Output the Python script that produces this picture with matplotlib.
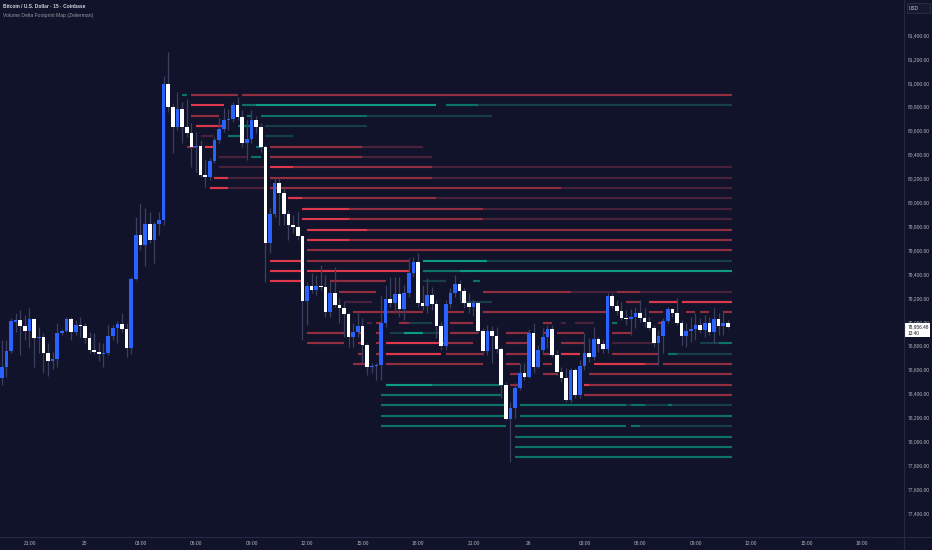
import matplotlib
matplotlib.use("Agg")
import matplotlib.pyplot as plt
from matplotlib.patches import Rectangle
from matplotlib.lines import Line2D
import numpy as np
import pandas as pd

plt.rcParams['font.family'] = ['Liberation Sans', 'DejaVu Sans']

# ---------------- data ----------------
first_bar = "2025-01-24 19:30"
bar_minutes = 15

opens = [78532, 78625, 78756, 79000, 79015, 78968, 78926, 79024, 78867, 78872,
         78742, 78670, 78689, 78909, 78926, 79024, 78912, 78973, 78965, 78862,
         78764, 78747, 78731, 78740, 78881, 78951, 78982, 78943, 78783, 79361,
         79727, 79640, 79818, 79687, 79818, 79850, 80988, 80795, 80628, 80778,
         80628, 80578, 80466, 80475, 80226, 80209, 80346, 80521, 80611, 80686,
         80697, 80812, 80717, 80494, 80530, 80686, 80633, 80466, 79657, 79900,
         80159, 80081, 79902, 79810, 79796, 79718, 79174, 79300, 79266, 79300,
         79290, 79080, 79239, 79141, 79113, 79066, 78871, 78912, 78968, 78806,
         78625, 78630, 78639, 78988, 79191, 79160, 79233, 79105, 79239, 79411,
         79503, 79160, 79135, 79225, 79149, 78965, 78800, 79147, 79239, 79317,
         79261, 79160, 79122, 79155, 78923, 78756, 78923, 78884, 78773, 78471,
         78184, 78276, 78449, 78574, 78536, 78909, 78625, 78764, 78871, 78937,
         78722, 78583, 78528, 78346, 78597, 78388, 78630, 78737, 78703, 78856,
         78812, 78773, 79219, 79133, 79091, 79030, 79020, 79040, 79074, 79035,
         78996, 78951, 78820, 78884, 79007, 79105, 79076, 78993, 78884, 78926,
         78937, 78973, 78931, 78988, 78912, 79024, 78968, 78993]
highs = [78848, 78848, 79032, 79076, 79099, 79057, 79116, 79032, 78959, 78907,
         78823, 78750, 78990, 78938, 79043, 79043, 79015, 79040, 78988, 78917,
         78909, 78834, 78823, 78973, 78973, 79010, 79074, 78990, 79378, 79880,
         79994, 79953, 79922, 79838, 79922, 81057, 81260, 80829, 80926, 80842,
         80865, 80664, 80591, 80521, 80354, 80368, 80549, 80703, 80787, 80778,
         80837, 80884, 80772, 80689, 80772, 80722, 80661, 80480, 79953, 80201,
         80215, 80120, 79936, 79894, 79922, 79727, 79336, 79406, 79392, 79476,
         79392, 79336, 79462, 79197, 79169, 79085, 78988, 79071, 79030, 78820,
         78658, 78653, 79219, 79308, 79378, 79378, 79378, 79308, 79531, 79545,
         79573, 79308, 79364, 79294, 79183, 79001, 79183, 79280, 79392, 79350,
         79280, 79239, 79188, 79169, 78946, 78973, 78965, 78959, 78792, 78499,
         78332, 78486, 78653, 78653, 78938, 78988, 78806, 78946, 78973, 78973,
         78764, 78625, 78611, 78611, 78611, 78680, 78904, 78862, 78959, 78876,
         78848, 79239, 79239, 79183, 79169, 79099, 79105, 79127, 79183, 79113,
         79043, 78973, 78931, 79030, 79127, 79113, 79197, 79015, 78988, 79043,
         79071, 79030, 79057, 79043, 79116, 79076, 79071, 79015]
lows = [78471, 78541, 78739, 78917, 78722, 78848, 78781, 78625, 78739, 78574,
        78547, 78603, 78625, 78890, 78917, 78848, 78890, 78876, 78820, 78737,
        78728, 78675, 78625, 78722, 78848, 78820, 78917, 78708, 78731, 79350,
        79601, 79467, 79657, 79495, 79727, 79810, 80758, 80415, 80605, 80494,
        80549, 80298, 80256, 80214, 80131, 80187, 80326, 80494, 80591, 80605,
        80675, 80689, 80466, 80354, 80494, 80578, 80424, 79336, 79574, 79880,
        79810, 79810, 79685, 79741, 79685, 78848, 78973, 79239, 79225, 79266,
        79043, 79043, 79127, 78988, 78876, 78792, 78792, 78876, 78653, 78555,
        78569, 78513, 78513, 78959, 79127, 79071, 79043, 79015, 79211, 79378,
        79127, 79099, 79071, 79099, 78862, 78764, 78764, 79113, 79211, 79183,
        79113, 79071, 79050, 78904, 78722, 78722, 78653, 78737, 78360, 78178,
        77830, 78193, 78429, 78513, 78527, 78569, 78611, 78737, 78781, 78708,
        78555, 78499, 78332, 78332, 78360, 78360, 78597, 78666, 78680, 78750,
        78737, 78737, 79113, 79057, 79015, 78973, 78890, 78946, 79001, 78959,
        78931, 78792, 78639, 78737, 78988, 79043, 78973, 78806, 78792, 78834,
        78848, 78904, 78876, 78890, 78820, 78890, 78890, 78946]
closes = [78625, 78756, 79007, 79015, 78968, 78926, 79024, 78867, 78872, 78742,
          78670, 78689, 78909, 78926, 79024, 78912, 78973, 78965, 78862, 78764,
          78747, 78731, 78740, 78881, 78951, 78982, 78943, 78783, 79361, 79727,
          79640, 79818, 79687, 79818, 79850, 80988, 80795, 80628, 80778, 80628,
          80578, 80466, 80475, 80226, 80209, 80346, 80521, 80611, 80686, 80697,
          80812, 80717, 80494, 80530, 80686, 80633, 80466, 79657, 79900, 80159,
          80081, 79902, 79810, 79796, 79718, 79174, 79300, 79266, 79300, 79290,
          79080, 79239, 79141, 79113, 79066, 78871, 78912, 78968, 78806, 78625,
          78630, 78639, 78988, 79191, 79160, 79233, 79105, 79239, 79411, 79503,
          79160, 79135, 79225, 79149, 78965, 78800, 79147, 79239, 79317, 79261,
          79160, 79122, 79155, 78923, 78756, 78923, 78884, 78773, 78471, 78184,
          78276, 78449, 78574, 78536, 78909, 78625, 78764, 78871, 78937, 78722,
          78583, 78528, 78346, 78597, 78388, 78630, 78737, 78703, 78856, 78812,
          78773, 79219, 79133, 79091, 79030, 79020, 79040, 79074, 79035, 78996,
          78951, 78820, 78884, 79007, 79105, 79076, 78993, 78884, 78926, 78937,
          78973, 78931, 78988, 78912, 79024, 78968, 78993, 78956.48]

# footprint price rows
fp_rows = [80898, 80811, 80725, 80638, 80552, 80465, 80378, 80292, 80205, 80119,
           80032, 79945, 79859, 79772, 79686, 79599, 79512, 79426, 79339, 79253,
           79166, 79079, 78993, 78906, 78820, 78733, 78646, 78560, 78473, 78387,
           78300, 78213, 78127, 78040, 77954, 77867]

# footprint segments: (row index, from bar, to bar, side, strength 1..3)
fp_segments = [
    (0, 39, 40, 'B', 2), (0, 41, 51, 'S', 2), (0, 52, 158, 'S', 2),
    (1, 41, 48, 'S', 3), (1, 52, 55, 'B', 2), (1, 55, 94, 'B', 3), (1, 96, 103, 'B', 2), (1, 103, 158, 'B', 1),
    (2, 41, 47, 'S', 2), (2, 53, 54, 'B', 2), (2, 56, 79, 'B', 2), (2, 79, 106, 'B', 1),
    (3, 42, 48, 'S', 3), (3, 51, 54, 'B', 2), (3, 57, 79, 'B', 1),
    (4, 43, 46, 'S', 1), (4, 49, 52, 'B', 2), (4, 57, 63, 'B', 1),
    (5, 40, 42, 'S', 2), (5, 44, 46, 'S', 3), (5, 55, 56, 'B', 2), (5, 58, 78, 'S', 2), (5, 78, 91, 'S', 1),
    (6, 47, 53, 'S', 1), (6, 54, 56, 'B', 2), (6, 58, 78, 'S', 2), (6, 78, 93, 'S', 1),
    (7, 47, 57, 'S', 1), (7, 58, 63, 'S', 3), (7, 63, 93, 'S', 2), (7, 93, 158, 'S', 1),
    (8, 46, 49, 'S', 3), (8, 49, 57, 'S', 1), (8, 58, 93, 'S', 2), (8, 93, 158, 'S', 1),
    (9, 45, 49, 'S', 3), (9, 49, 57, 'S', 1), (9, 58, 121, 'S', 2), (9, 121, 158, 'S', 1),
    (10, 62, 65, 'S', 3), (10, 65, 94, 'S', 2), (10, 94, 158, 'S', 1),
    (11, 65, 75, 'S', 3), (11, 75, 104, 'S', 2), (11, 104, 158, 'S', 1),
    (12, 65, 75, 'S', 3), (12, 75, 104, 'S', 2), (12, 104, 158, 'S', 1),
    (13, 66, 79, 'S', 3), (13, 79, 158, 'S', 2),
    (14, 66, 75, 'S', 3), (14, 75, 158, 'S', 2),
    (15, 66, 158, 'S', 2),
    (16, 58, 65, 'S', 3), (16, 66, 88, 'S', 2), (16, 91, 105, 'B', 3), (16, 105, 158, 'B', 1),
    (17, 58, 65, 'S', 3), (17, 66, 88, 'S', 3), (17, 91, 99, 'B', 2), (17, 99, 158, 'B', 3),
    (18, 58, 65, 'S', 3), (18, 71, 83, 'S', 2), (18, 91, 96, 'B', 1), (18, 102, 103.5, 'B', 2),
    (19, 73, 81, 'S', 2), (19, 104, 123, 'S', 2), (19, 123, 133, 'S', 1), (19, 133, 138, 'S', 2), (19, 138, 158, 'S', 1),
    (20, 74, 80, 'S', 1), (20, 99, 106, 'B', 1), (20, 135, 138, 'S', 2), (20, 140, 146, 'S', 3), (20, 147, 158, 'S', 3),
    (21, 76, 91, 'S', 2), (21, 96, 100, 'S', 2), (21, 104, 131, 'S', 2), (21, 140, 143, 'S', 2),
    (21, 148, 150, 'S', 2), (21, 151, 153, 'S', 2), (21, 156, 158, 'S', 2),
    (22, 79, 80, 'S', 1), (22, 81, 82, 'S', 2), (22, 86, 88, 'S', 2), (22, 88, 93, 'B', 1), (22, 97, 102, 'S', 2),
    (22, 117, 119, 'S', 2), (22, 121, 122, 'S', 1), (22, 124, 128, 'S', 1), (22, 132, 133, 'B', 2), (22, 142, 143, 'S', 2),
    (23, 66, 74, 'S', 2), (23, 77, 78, 'S', 2), (23, 81, 82, 'S', 2), (23, 84, 87, 'B', 1), (23, 87, 91, 'B', 3),
    (23, 91, 95, 'B', 1), (23, 97, 103, 'S', 2), (23, 109, 114, 'S', 2), (23, 117, 118, 'S', 2), (23, 120, 126, 'S', 2),
    (23, 132, 136, 'S', 2),
    (24, 66, 74, 'S', 2), (24, 77, 78, 'S', 2), (24, 81, 82, 'S', 2), (24, 83, 95, 'S', 3), (24, 95, 102, 'S', 2),
    (24, 109, 114, 'S', 2), (24, 121, 126, 'S', 2), (24, 132, 141, 'S', 1), (24, 151, 155, 'B', 1), (24, 155, 158, 'B', 2),
    (25, 77, 78, 'S', 2), (25, 81, 82, 'S', 2), (25, 83, 95, 'S', 3), (25, 96, 104, 'S', 2), (25, 109, 114, 'S', 2),
    (25, 117, 119, 'S', 2), (25, 121, 125, 'S', 3), (25, 132, 142, 'S', 2), (25, 144, 146, 'B', 2), (25, 146, 158, 'B', 1),
    (26, 76, 79, 'S', 2), (26, 83, 104, 'S', 2), (26, 109, 112, 'S', 2), (26, 117, 119, 'S', 2), (26, 128, 139, 'S', 3),
    (26, 139, 142, 'S', 2), (26, 143, 158, 'S', 2),
    (27, 110, 112, 'S', 2), (27, 117, 120, 'S', 2), (27, 127, 158, 'S', 2),
    (28, 83, 93, 'B', 3), (28, 93, 108, 'B', 2), (28, 110, 112, 'S', 2), (28, 126, 127, 'S', 3), (28, 127, 158, 'S', 2),
    (29, 82, 108, 'B', 2), (29, 126, 158, 'S', 2),
    (30, 82, 109, 'B', 2), (30, 112, 135, 'B', 2), (30, 135, 136, 'B', 1), (30, 136, 139, 'B', 2), (30, 139, 144, 'B', 1),
    (30, 144, 145, 'B', 2), (30, 145, 158, 'B', 1),
    (31, 82, 109, 'B', 2), (31, 112, 158, 'B', 2),
    (32, 82, 109, 'B', 2), (32, 111, 135, 'B', 2), (32, 136, 138, 'B', 2), (32, 138, 158, 'B', 1),
    (33, 111, 158, 'B', 2),
    (34, 111, 158, 'B', 2),
    (35, 111, 158, 'B', 2),
]

price_ticks = [77400, 77600, 77800, 78000, 78200, 78400, 78600, 78800, 79000,
               79200, 79400, 79600, 79800, 80000, 80200, 80400, 80600, 80800,
               81000, 81200, 81400]
time_ticks = pd.date_range("2025-01-24 21:00", "2025-01-26 18:00", freq="3h")
countdown = "13:40"

# ---------------- styles ----------------
W, H = 932, 550
BG = '#11132a'
GRID_LINE = '#252944'
UP = '#2962ff'
DOWN = '#ffffff'
WICK = '#3b4060'
TXT = '#b2b5be'
SELL_COL = {1: '#48223a', 2: '#932e41', 3: '#dc3a4c'}
BUY_COL = {1: '#163e4b', 2: '#0d7266', 3: '#0c9a83'}

fig = plt.figure(figsize=(W / 100, H / 100), dpi=100)
fig.patch.set_facecolor(BG)

plot_right = 904
plot_bottom = 537
ax = fig.add_axes([0, (H - plot_bottom) / H, plot_right / W, plot_bottom / H])
ax.set_facecolor(BG)
for s in ax.spines.values():
    s.set_visible(False)

bar_w_px = 4.625
x0_px = 1.75
ax.set_xlim(-x0_px / bar_w_px, (plot_right - x0_px) / bar_w_px)
px_per_price = 478 / 4000
y_top_price = 81400 + 35 / px_per_price
ax.set_ylim(y_top_price - plot_bottom / px_per_price, y_top_price)

idx = np.arange(len(opens))
o = np.array(opens, float)
h = np.array(highs, float)
l = np.array(lows, float)
c = np.array(closes, float)

# footprint map
for row, a, b, side, st in fp_segments:
    col = SELL_COL[st] if side == 'S' else BUY_COL[st]
    ax.plot([a, b], [fp_rows[row], fp_rows[row]], color=col, lw=1.55,
            solid_capstyle='butt', zorder=1)

# candles
up = c >= o
ax.vlines(idx, l, h, color=WICK, lw=0.9, zorder=2)
body_low = np.minimum(o, c)
body_h = np.maximum(np.abs(c - o), 7)
ax.bar(idx[up], body_h[up], bottom=body_low[up], width=0.78, color=UP,
       linewidth=0, zorder=3)
ax.bar(idx[~up], body_h[~up], bottom=body_low[~up], width=0.78, color=DOWN,
       linewidth=0, zorder=3)

# axes ticks
t0 = pd.Timestamp(first_bar)
xt = [(t - t0) / pd.Timedelta(minutes=bar_minutes) for t in time_ticks]
xl = [str(t.day) if (t.hour == 0 and t.minute == 0) else t.strftime("%H:%M") for t in time_ticks]
ax.set_xticks(xt)
ax.set_xticklabels(xl)
ax.set_yticks(price_ticks)
ax.set_yticklabels([f"{v:,.2f}" for v in price_ticks])
ax.yaxis.tick_right()
ax.tick_params(axis='x', length=0, pad=3.2, labelsize=3.5, labelcolor=TXT)
ax.tick_params(axis='y', length=0, pad=2.8, labelsize=3.5, labelcolor=TXT)

# separators
fig.add_artist(Line2D([plot_right / W, plot_right / W], [0, 1], color=GRID_LINE, lw=0.8))
fig.add_artist(Line2D([0, 1], [(H - plot_bottom) / H] * 2, color=GRID_LINE, lw=0.8))

# header texts
fig.text(3 / W, 1 - 7 / H, "Bitcoin / U.S. Dollar · 15 · Coinbase", color='#d1d4dc',
         fontsize=3.5, fontweight='bold', va='center', ha='left')
fig.text(3 / W, 1 - 15 / H, "Volume Delta Footprint Map (Zeiierman)", color='#9598a1',
         fontsize=3.6, va='center', ha='left')

# USD box
fig.add_artist(Rectangle((906.5 / W, 1 - 12.8 / H), 23.5 / W, 9.5 / H, transform=fig.transFigure,
                         facecolor='#161a30', edgecolor='#2c3048', lw=0.6))
fig.text(909 / W, 1 - 8 / H, "USD", color='#d1d4dc', fontsize=3.3, va='center', ha='left')

# last price label
last = closes[-1]
fig.add_artist(Rectangle((905 / W, 1 - 337 / H), 25 / W, 14 / H, transform=fig.transFigure,
                         facecolor='#ffffff', edgecolor='none'))
fig.text(907.5 / W, 1 - 327 / H, f"{last:,.2f}", color='#131722', fontsize=3.4,
         va='center', ha='left')
fig.text(907.5 / W, 1 - 333.5 / H, countdown, color='#131722', fontsize=3.4,
         va='center', ha='left')

fig.savefig("out.png", dpi=100, facecolor=BG)
